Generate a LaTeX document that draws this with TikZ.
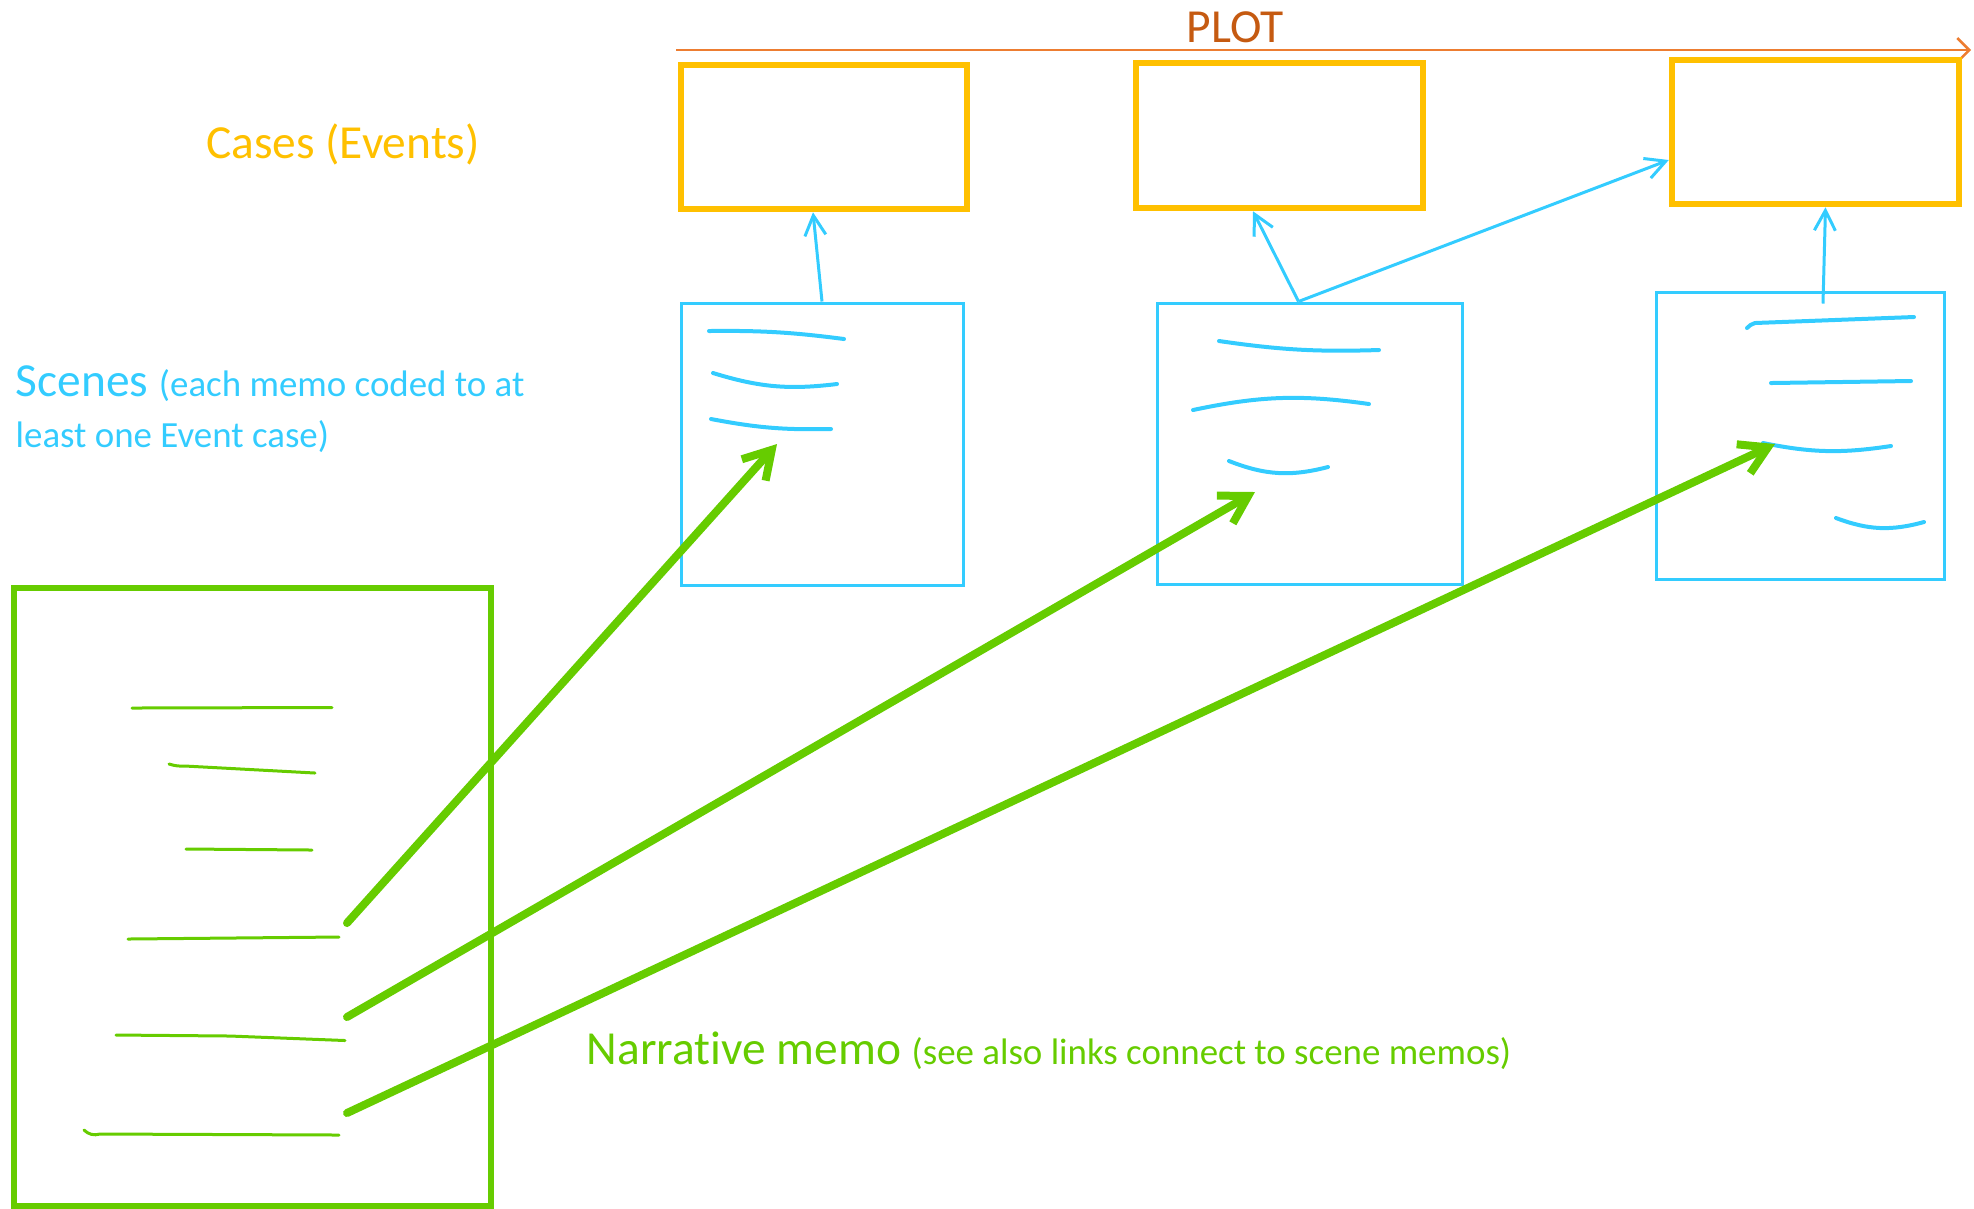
\documentclass[tikz,border=0pt]{standalone}
\usepackage{fontspec}
\setmainfont[Ligatures=NoCommon]{Carlito}
\usetikzlibrary{arrows.meta}
\definecolor{casecol}{HTML}{FFC000}
\definecolor{scenecol}{HTML}{33CCFF}
\definecolor{narrcol}{HTML}{66CC00}
\definecolor{plotcol}{HTML}{ED7D31}
\definecolor{plottxt}{HTML}{C55A11}
\newcommand{\bigtxt}{\fontsize{13.5}{14.5}\selectfont}
\newcommand{\smalltxt}{\fontsize{10.5}{14.5}\selectfont}
\begin{document}
\begin{tikzpicture}[
            casebox/.style={draw=casecol, line width=0.065cm, minimum width=2.86cm, minimum height=1.44cm, inner sep=0pt},
            scenebox/.style={draw=scenecol, line width=0.03cm, inner sep=0pt},
            sceneline/.style={scenecol, line width=0.03cm, -{Straight Barb[length=0.2cm, width=0.21cm]}},
            narrline/.style={narrcol, line width=0.08cm, line cap=round, -{Straight Barb[length=0.27cm, width=0.32cm]}},
            bluescrib/.style={scenecol, line width=0.04cm, line cap=round},
            greenscrib/.style={narrcol, line width=0.03cm, line cap=round}
        ]
            \useasboundingbox (0,0) rectangle (19.74,-12.08);
            \node[plottxt, font=\bigtxt] (plotlbl) at (12.35,-0.27) {PLOT};
            \coordinate (plotS) at (6.76,-0.50);
            \coordinate (plotE) at (19.71,-0.50);
            \draw[plotcol, line width=0.025cm, -{Straight Barb[length=0.12cm, width=0.24cm]}] (plotS) -- (plotE);
            \node[casecol, font=\bigtxt] (caselbl) at (3.43,-1.44) {Cases (Events)};
            \node[casebox] (case1) at (8.24,-1.37) {};
            \node[casebox, minimum width=2.87cm, minimum height=1.45cm] (case2) at (12.795,-1.355) {};
            \node[casebox, minimum width=2.87cm] (case3) at (18.155,-1.32) {};
            \node[scenebox, minimum width=2.82cm, minimum height=2.82cm] (scene1) at (8.22,-4.44) {};
            \node[scenebox, minimum width=3.05cm, minimum height=2.81cm] (scene2) at (13.095,-4.435) {};
            \node[scenebox, minimum width=2.88cm, minimum height=2.87cm] (scene3) at (18.00,-4.355) {};
            \node[scenecol, font=\bigtxt, anchor=base west, align=left, inner sep=0pt] (scenelbl) at (0.15,-4.47)
                {Scenes {\smalltxt (each memo coded to at}\\{\smalltxt least one Event case)}};
            \node[draw=narrcol, line width=0.06cm, minimum width=4.77cm, minimum height=6.18cm] (narr) at (2.525,-8.97) {};
            \node[narrcol, font=\bigtxt, anchor=base west, inner sep=0pt] (narrlbl) at (5.86,-10.64)
                {Narrative memo {\smalltxt (see also links connect to scene memos)}};
            \draw[sceneline] (scene1.north) -- ([xshift=-0.11cm]case1.south);
            \draw[sceneline] ([xshift=-0.11cm]scene2.north) -- ([xshift=-0.265cm]case2.south);
            \draw[sceneline] ([xshift=-0.11cm]scene2.north) -- ([yshift=-0.28cm]case3.west);
            \draw[sceneline] ([xshift=0.23cm, yshift=-0.13cm]scene3.north) -- ([xshift=0.1cm]case3.south);
            \draw[bluescrib] (7.09,-3.31) to[bend left=4] (8.44,-3.39);
            \draw[bluescrib] (7.13,-3.73) to[bend right=12] (8.37,-3.84);
            \draw[bluescrib] (7.11,-4.19) to[bend right=6] (8.31,-4.29);
            \draw[bluescrib] (12.19,-3.41) to[bend right=5] (13.79,-3.50);
            \draw[bluescrib] (11.93,-4.10) to[bend left=10] (13.69,-4.04);
            \draw[bluescrib] (12.29,-4.61) to[bend right=18] (13.28,-4.67);
            \draw[bluescrib] (17.47,-3.28) to[bend left=15] (17.55,-3.23) -- (19.14,-3.17);
            \draw[bluescrib] (17.71,-3.83) -- (19.11,-3.81);
            \draw[bluescrib] (17.63,-4.43) to[bend right=10] (18.91,-4.46);
            \draw[bluescrib] (18.36,-5.18) to[bend right=18] (19.24,-5.22);
            \draw[greenscrib] (1.32,-7.08) -- (3.32,-7.075);
            \draw[greenscrib] (1.69,-7.64) to[bend right=10] (1.85,-7.66) -- (3.15,-7.73);
            \draw[greenscrib] (1.86,-8.49) -- (3.12,-8.50);
            \draw[greenscrib] (1.28,-9.39) -- (3.39,-9.37);
            \draw[greenscrib] (1.16,-10.35) -- (2.3,-10.36) -- (3.45,-10.405);
            \draw[greenscrib] (0.84,-11.30) to[bend right=30] (1.0,-11.34) -- (3.39,-11.35);
            \coordinate (link1s) at (3.47,-9.23);
            \coordinate (link1e) at (7.77,-4.44);
            \coordinate (link2s) at (3.47,-10.17);
            \coordinate (link2e) at (12.55,-4.92);
            \coordinate (link3s) at (3.47,-11.13);
            \coordinate (link3e) at (17.75,-4.44);
            \draw[narrline] (link1s) -- (link1e);
            \draw[narrline] (link2s) -- (link2e);
            \draw[narrline] (link3s) -- (link3e);
        \end{tikzpicture}
\end{document}
